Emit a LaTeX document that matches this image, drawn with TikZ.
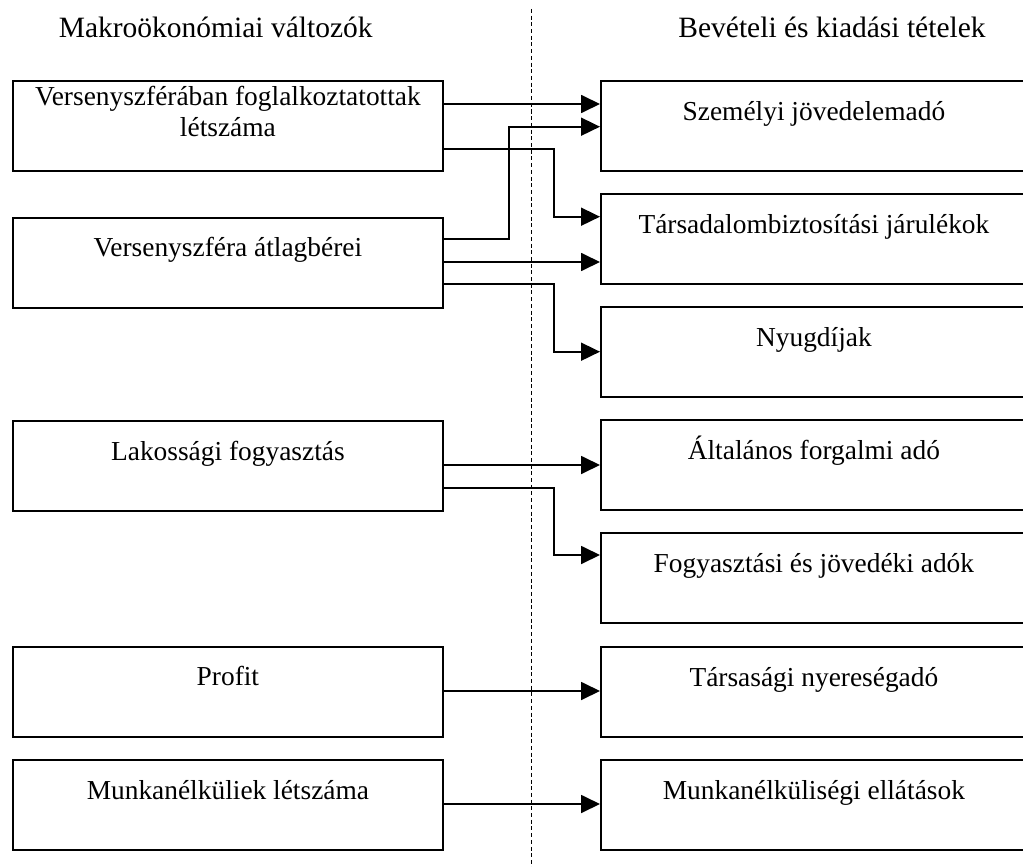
\documentclass[tikz,border=0pt]{standalone}
\usepackage{fontspec}
\setmainfont{Liberation Serif}
\usetikzlibrary{arrows.meta,calc}
\begin{document}
\begin{tikzpicture}[x=1pt,y=-1pt,
  box/.style={draw=black,line width=1.8pt,minimum height=90pt,inner sep=0pt,anchor=north west},
  lbox/.style={box,minimum width=430pt},
  rbox/.style={box,minimum width=426pt},
  txt/.style={inner sep=0pt,anchor=base,font=\fontsize{27.4}{30.7}\selectfont},
  ttl/.style={inner sep=0pt,anchor=base,font=\fontsize{29.5}{33}\selectfont},
  arr/.style={line width=1.8pt,-{Triangle[length=19pt,width=18pt]}},
  sep/.style={line width=1pt,dash pattern=on 4pt off 2.7pt}]
\useasboundingbox (0,0) rectangle (1023,867);
% titles
\node[ttl] (tl) at (215.7,38) {Makroökonómiai változók};
\node[ttl] (tr) at (832,38) {Bevételi és kiadási tételek};
% separator
\coordinate (sept) at (531.7,9);
\coordinate (sepb) at (531.7,867);
\draw[sep] (sept) -- (sepb);
% left boxes
\node[lbox] (l1) at (12,80) {};
\node[lbox] (l2) at (12,216.7) {};
\node[lbox] (l3) at (12,420) {};
\node[lbox] (l4) at (12,645.7) {};
\node[lbox] (l5) at (12,759) {};
\node[txt] (l1a) at ([yshift=-26pt]l1.north) {Versenyszférában foglalkoztatottak};
\node[txt] (l1b) at ([yshift=-56.7pt]l1.north) {létszáma};
\node[txt] (l2t) at ([yshift=-40pt]l2.north) {Versenyszféra átlagbérei};
\node[txt] (l3t) at ([yshift=-40pt]l3.north) {Lakossági fogyasztás};
\node[txt] (l4t) at ([yshift=-40pt]l4.north) {Profit};
\node[txt] (l5t) at ([yshift=-40pt]l5.north) {Munkanélküliek létszáma};
% right boxes
\node[rbox] (r1) at (600,80) {};
\node[rbox] (r2) at (600,192.7) {};
\node[rbox] (r3) at (600,306) {};
\node[rbox] (r4) at (600,419) {};
\node[rbox] (r5) at (600,531.7) {};
\node[rbox] (r6) at (600,645.7) {};
\node[rbox] (r7) at (600,759) {};
\node[txt] (r1t) at ([yshift=-40.5pt]r1.north) {Személyi jövedelemadó};
\node[txt] (r2t) at ([yshift=-40.5pt]r2.north) {Társadalombiztosítási járulékok};
\node[txt] (r3t) at ([yshift=-40.5pt]r3.north) {Nyugdíjak};
\node[txt] (r4t) at ([yshift=-40.5pt]r4.north) {Általános forgalmi adó};
\node[txt] (r5t) at ([yshift=-40.5pt]r5.north) {Fogyasztási és jövedéki adók};
\node[txt] (r6t) at ([yshift=-40.5pt]r6.north) {Társasági nyereségadó};
\node[txt] (r7t) at ([yshift=-40.5pt]r7.north) {Munkanélküliségi ellátások};
% connectors
\coordinate (s1) at ([yshift=-24pt]l1.north east);
\draw[arr] (s1) -- (s1 -| r1.west);
\coordinate (s2) at ([yshift=-22.6pt]l2.north east);
\coordinate (e2) at ([yshift=-46.7pt]r1.north west);
\draw[arr] (s2) -| ([xshift=-91pt]e2) -- (e2);
\coordinate (s3) at ([yshift=-69pt]l1.north east);
\coordinate (e3) at ([yshift=-24pt]r2.north west);
\draw[arr] (s3) -| ([xshift=-45.7pt]e3) -- (e3);
\coordinate (s4) at ([yshift=-45.3pt]l2.north east);
\draw[arr] (s4) -- (s4 -| r2.west);
\coordinate (s5) at ([yshift=-67.3pt]l2.north east);
\coordinate (e5) at ([yshift=-45.7pt]r3.north west);
\draw[arr] (s5) -| ([xshift=-45.7pt]e5) -- (e5);
\coordinate (s6) at ([yshift=-45pt]l3.north east);
\draw[arr] (s6) -- (s6 -| r4.west);
\coordinate (s7) at ([yshift=-67.7pt]l3.north east);
\coordinate (e7) at ([yshift=-23.3pt]r5.north west);
\draw[arr] (s7) -| ([xshift=-45.7pt]e7) -- (e7);
\coordinate (s8) at ([yshift=-45.3pt]l4.north east);
\draw[arr] (s8) -- (s8 -| r6.west);
\coordinate (s9) at ([yshift=-45pt]l5.north east);
\draw[arr] (s9) -- (s9 -| r7.west);
\end{tikzpicture}
\end{document}
